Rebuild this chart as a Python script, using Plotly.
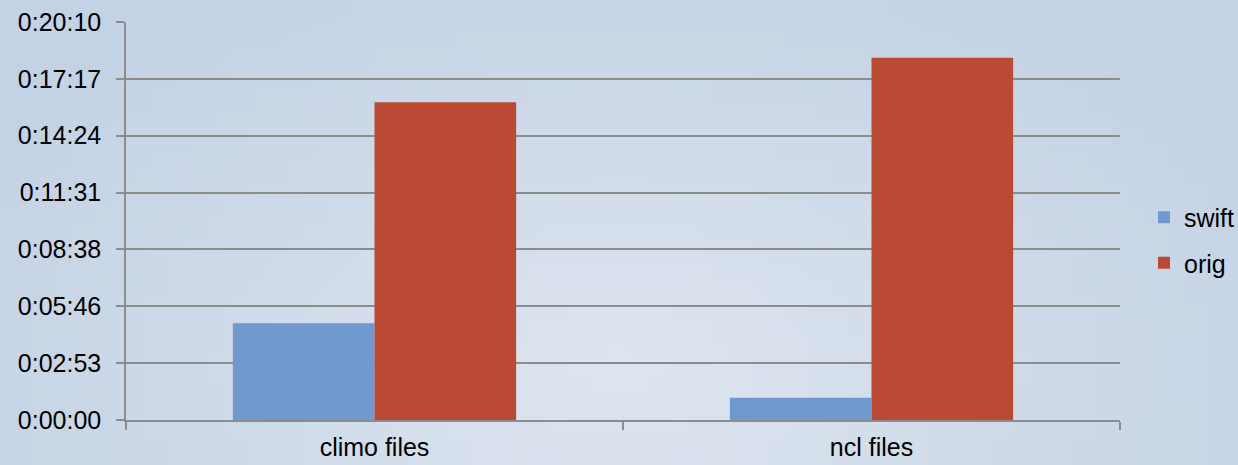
import base64
import struct
import zlib

import plotly.graph_objects as go

categories = ["climo files", "ncl files"]
series_names = ["swift", "orig"]
swift_seconds = [294, 68]
orig_seconds = [966, 1101]
tick_labels = ["0:00:00", "0:02:53", "0:05:46", "0:08:38", "0:11:31", "0:14:24", "0:17:17", "0:20:10"]
y_max_seconds = 1210

colors = {"swift": "#7099d0", "orig": "#bb4a35"}
font_family = "Liberation Sans, Arial, sans-serif"
bg = "#cad7e7"

W, H = 1238, 465
ml, mr, mt, mb = 126, 118, 22, 45
pw, ph = W - ml - mr, H - mt - mb


def gradient_png(w, h):
    light = (0xde, 0xe5, 0xef)
    dark = (0xc3, 0xd2, 0xe4)
    cx, cy = 0.5, 0.8
    rows = []
    for j in range(h):
        row = bytearray([0])
        for i in range(w):
            fx, fy = (i + 0.5) / w, (j + 0.5) / h
            d = (((fx - cx) / 0.6) ** 2 + ((fy - cy) / 0.95) ** 2) ** 0.5
            t = min(1.0, d)
            for a, b in zip(light, dark):
                row.append(int(round(a + (b - a) * t)))
        rows.append(bytes(row))
    raw = b"".join(rows)

    def chunk(tag, data):
        c = struct.pack(">I", len(data)) + tag + data
        return c + struct.pack(">I", zlib.crc32(tag + data) & 0xffffffff)

    png = b"\x89PNG\r\n\x1a\n" + chunk(b"IHDR", struct.pack(">IIBBBBB", w, h, 8, 2, 0, 0, 0))
    png += chunk(b"IDAT", zlib.compress(raw, 9)) + chunk(b"IEND", b"")
    return "data:image/png;base64," + base64.b64encode(png).decode()


fig = go.Figure()
for name, vals in zip(series_names, [swift_seconds, orig_seconds]):
    fig.add_trace(go.Bar(
        x=categories, y=vals, name=name, legendgroup=name,
        marker=dict(color=colors[name], line=dict(width=0)),
    ))

step = y_max_seconds / (len(tick_labels) - 1)
tickvals = [i * step for i in range(len(tick_labels))]

fig.update_layout(
    width=W, height=H,
    margin=dict(l=ml, r=mr, t=mt, b=mb, autoexpand=False),
    paper_bgcolor=bg,
    plot_bgcolor="rgba(0,0,0,0)",
    barmode="group", bargap=0.43, bargroupgap=0,
    font=dict(family=font_family, size=25, color="#000000"),
    showlegend=True,
    legend=dict(x=(1144 - ml) / pw, y=(420 - 240) / ph, yanchor="middle",
                bgcolor="rgba(0,0,0,0)", tracegroupgap=10,
                font=dict(size=25), itemwidth=30),
    images=[dict(source=gradient_png(62, 24), xref="paper", yref="paper",
                 x=-ml / pw, y=1 + mt / ph, sizex=W / pw, sizey=H / ph,
                 sizing="stretch", xanchor="left", yanchor="top", layer="below")],
)
fig.update_yaxes(
    range=[0, y_max_seconds], tickvals=tickvals, ticktext=tick_labels,
    showgrid=True, gridcolor="#8c8c8c", gridwidth=1.5,
    showline=True, linecolor="#8c8c8c", linewidth=1.5,
    ticks="outside", ticklen=8, tickcolor="#8c8c8c", tickwidth=1.5,
    ticklabelstandoff=10, zeroline=False, automargin=False,
    tickfont=dict(size=25, family=font_family),
)
fig.update_xaxes(
    showline=True, linecolor="#8c8c8c", linewidth=1.5,
    ticks="outside", ticklen=8, tickcolor="#8c8c8c", tickwidth=1.5,
    tickson="boundaries", showgrid=False, automargin=False,
    ticklabelstandoff=4,
    tickfont=dict(size=25, family=font_family),
)

fig.write_html(
    "out.html",
    config={"displayModeBar": False},
    post_script="document.body.style.margin='0';document.body.style.background='%s';"
                "document.documentElement.style.overflow='hidden';" % bg,
)
